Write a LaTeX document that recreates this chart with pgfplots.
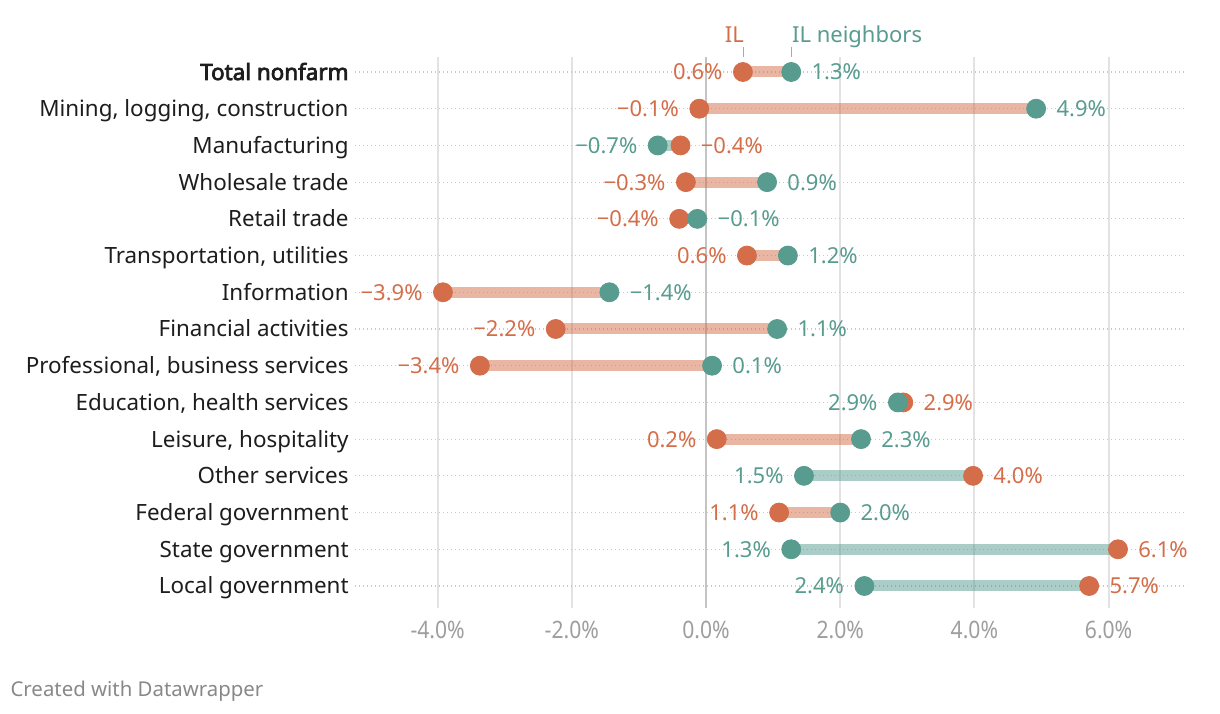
\documentclass[border=0pt]{standalone}
\usepackage{pgfplots}
\pgfplotsset{compat=1.18}
\usepackage{pgfplotstable}
\usepackage{fontspec}
\setmainfont{Noto Sans}[AutoFakeBold=3.2]
\newfontfamily\tickfont[FakeStretch=0.88]{Noto Sans}
\definecolor{ilc}{RGB}{212,110,74}
\definecolor{nbc}{RGB}{88,155,143}
\definecolor{catc}{RGB}{29,29,29}
\definecolor{tickc}{RGB}{158,158,158}
\definecolor{gridc}{RGB}{226,226,226}
\definecolor{zeroc}{RGB}{196,196,196}
\definecolor{dotc}{RGB}{200,200,200}
\definecolor{footc}{RGB}{136,136,136}
\definecolor{legtick}{RGB}{170,170,170}

\pgfplotsset{
  nomark/.style={only marks, mark=*, mark size=0pt, mark options={draw=none, fill=none}},
  vlab/.style={nomark, point meta=explicit symbolic,
    nodes near coords={\pgfplotspointmeta},
    every node near coord/.append style={anchor=base #1, yshift=-3.95pt, inner xsep=10pt, inner ysep=0pt, font=\fontsize{11}{13}\selectfont}},
}

% dxo: span of an orange bar (IL below neighbours), dxt: span of a teal bar
% ilL/ilR, nbL/nbR: label shown left or right of the dot
\pgfplotstableread{
row il nb dxo dxt ilL ilR nbL nbR
0 0.55 1.27 0.72 0 0.6\% {} {} 1.3\%
1 -0.10 4.92 5.02 0 −0.1\% {} {} 4.9\%
2 -0.38 -0.72 0 -0.34 {} −0.4\% −0.7\% {}
3 -0.30 0.91 1.21 0 −0.3\% {} {} 0.9\%
4 -0.40 -0.13 0.27 0 −0.4\% {} {} −0.1\%
5 0.61 1.22 0.61 0 0.6\% {} {} 1.2\%
6 -3.92 -1.44 2.48 0 −3.9\% {} {} −1.4\%
7 -2.24 1.06 3.30 0 −2.2\% {} {} 1.1\%
8 -3.37 0.09 3.46 0 −3.4\% {} {} 0.1\%
9 2.94 2.86 0 -0.08 {} 2.9\% 2.9\% {}
10 0.16 2.31 2.15 0 0.2\% {} {} 2.3\%
11 3.98 1.46 0 -2.52 {} 4.0\% 1.5\% {}
12 1.09 2.00 0.91 0 1.1\% {} {} 2.0\%
13 6.14 1.27 0 -4.87 {} 6.1\% 1.3\% {}
14 5.71 2.36 0 -3.35 {} 5.7\% 2.4\% {}
}\data

\pgfplotstableread{
x y
0 -0.4
0 14.6
}\zeroline

\begin{document}
\begin{tikzpicture}
\begin{axis}[
  scale only axis, width=416pt, height=275.36pt,
  xmin=-5.231, xmax=7.168, ymin=-0.4, ymax=14.6, y dir=reverse,
  clip=false,
  axis line style={draw=none}, tick style={draw=none},
  xtick={-4,-2,0,2,4,6},
  xticklabels={-4.0\%,-2.0\%,0.0\%,2.0\%,4.0\%,6.0\%},
  xticklabel style={font=\tickfont\fontsize{12}{14}\selectfont, text=tickc, inner sep=0pt, yshift=-6.5pt},
  ytick={0,...,14},
  yticklabels={\textbf{Total nonfarm}, {Mining, logging, construction}, Manufacturing, Wholesale trade, Retail trade, {Transportation, utilities}, Information, Financial activities, {Professional, business services}, {Education, health services}, {Leisure, hospitality}, Other services, Federal government, State government, Local government},
  yticklabel style={font=\fontsize{11.2}{13}\selectfont, text=catc, inner sep=0pt, anchor=base east, xshift=-3pt, yshift=-4pt},
  xmajorgrids, ymajorgrids,
  x grid style={gridc, line width=1pt},
  y grid style={dotc, line width=0.6pt, dash pattern=on 0.6pt off 1.4pt},
]
% zero line
\addplot[zeroc, line width=1pt, forget plot] table[x=x,y=y]{\zeroline};
% bars (orange: IL below neighbours)
\addplot[nomark, forget plot,
  error bars/.cd, x dir=plus, x explicit, error mark=none,
  error bar style={line width=5.5pt, color=ilc, opacity=0.5}]
  table[x=il, y=row, x error=dxo]{\data};
% bars (teal: IL above neighbours)
\addplot[nomark, forget plot,
  error bars/.cd, x dir=plus, x explicit, error mark=none,
  error bar style={line width=5.5pt, color=nbc, opacity=0.5}]
  table[x=il, y=row, x error=dxt]{\data};
% dots
\addplot[only marks, mark=*, mark size=4.75pt, color=ilc, mark options={fill=ilc, draw=none}] table[x=il, y=row]{\data};
\addplot[only marks, mark=*, mark size=4.75pt, color=nbc, mark options={fill=nbc, draw=none}] table[x=nb, y=row]{\data};
% value labels
\addplot[vlab=east, every node near coord/.append style={text=ilc}] table[x=il, y=row, meta=ilL]{\data};
\addplot[vlab=west, every node near coord/.append style={text=ilc}] table[x=il, y=row, meta=ilR]{\data};
\addplot[vlab=east, every node near coord/.append style={text=nbc}] table[x=nb, y=row, meta=nbL]{\data};
\addplot[vlab=west, every node near coord/.append style={text=nbc}] table[x=nb, y=row, meta=nbR]{\data};
% legend annotations
\node[anchor=base east, text=ilc, inner sep=0pt, font=\fontsize{11}{13}\selectfont] at (axis cs:0.57,-0.817) {IL};
\node[anchor=base west, text=nbc, inner sep=0pt, font=\fontsize{11}{13}\selectfont] at (axis cs:1.277,-0.817) {IL neighbors};
\draw[legtick, line width=0.6pt] (axis cs:0.56,-0.68) -- (axis cs:0.56,-0.41);
\draw[legtick, line width=0.6pt] (axis cs:1.277,-0.68) -- (axis cs:1.277,-0.41);
% footer
\node[anchor=base west, text=footc, inner sep=0pt, font=\fontsize{10.2}{12}\selectfont] at (axis cs:-10.37,17.02) {Created with Datawrapper};
% bounding box
\path (axis cs:-10.522,-1.961) rectangle (axis cs:7.660,17.487);
\end{axis}
\end{tikzpicture}
\end{document}
